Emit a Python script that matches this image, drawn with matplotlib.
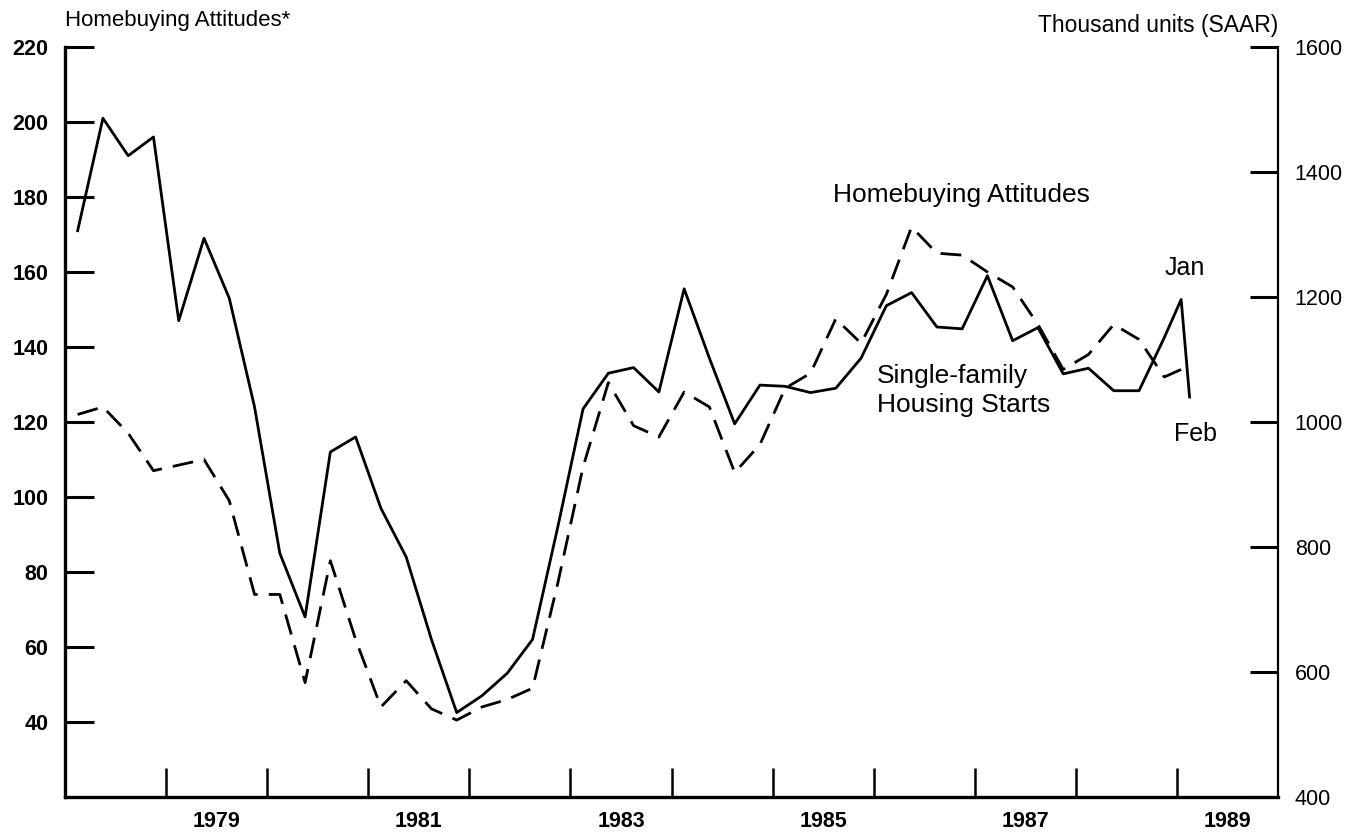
import matplotlib.pyplot as plt
import numpy as np

plt.rcParams['font.family'] = ['Liberation Sans', 'DejaVu Sans']

# quarterly data, 1978Q1 - 1988Q4
years = list(range(1978, 1989))
quarters = [1, 2, 3, 4]

# single-family housing starts, thousand units (SAAR) - solid line, right scale
starts = [1306, 1486, 1426, 1456,
          1162, 1294, 1198, 1024,
          790, 688, 952, 976,
          862, 784, 652, 535,
          562, 598, 652, 832,
          1021, 1078, 1087, 1048,
          1213, 1102, 997, 1059,
          1057, 1047, 1054, 1102,
          1186, 1207, 1152, 1149,
          1234, 1130, 1151, 1077,
          1086, 1050, 1050, 1135]
# monthly 1989: Jan, Feb
starts_1989 = [1196, 1040]

# homebuying attitudes index - dashed line, left scale
attitudes = [122, 124, 117, 107,
             108.5, 110, 99, 74,
             74, 50.5, 83, 62,
             44, 51, 43.5, 40.5,
             44, 46, 49, 77,
             108, 130.5, 119, 116,
             128, 124, 106.5, 114,
             129, 133, 147.5, 141,
             154, 172, 165, 164.5,
             160, 156, 146, 134,
             138, 146, 142, 132]
# monthly 1989: Jan
attitudes_1989 = [134]

months_1989 = [1, 2]

left_ticks = [40, 60, 80, 100, 120, 140, 160, 180, 200, 220]
right_ticks = [400, 600, 800, 1000, 1200, 1400, 1600]
year_ticks = list(range(1979, 1990))
year_labels = ['1979', '1981', '1983', '1985', '1987', '1989']

# positions: quarter midpoints and month midpoints
xq = [y + (q - 0.5) / 4 for y in years for q in quarters]
xm = [1989 + (m - 0.5) / 12 for m in months_1989]

fig = plt.figure(figsize=(13.63, 8.36), dpi=100)
ax = fig.add_axes([0.0477, 0.0467, 0.88995, 0.8971])
ax2 = ax.twinx()

ax.plot(xq + xm[:1], attitudes + attitudes_1989, color='black', lw=2.0,
        linestyle=(0, (7.5, 4)))
ax2.plot(xq + xm, starts + starts_1989, color='black', lw=2.0)

ax.set_xlim(1978, 1990)
ax.set_ylim(20, 220)
ax2.set_ylim(400, 1600)

# spines
ax.spines['top'].set_visible(False)
ax.spines['right'].set_visible(False)
ax.spines['left'].set_linewidth(2.4)
ax.spines['bottom'].set_linewidth(2.4)
for s in ['top', 'left', 'bottom']:
    ax2.spines[s].set_visible(False)
ax2.spines['right'].set_linewidth(1.6)

# left axis ticks
ax.set_yticks(left_ticks)
ax.set_yticks([220], minor=True)
ax.tick_params(axis='y', which='major', direction='in', length=21, width=2.2,
               pad=12, labelsize=15.5)
ax.tick_params(axis='y', which='minor', direction='in', length=27, width=2.2,
               labelleft=False)
for lab in ax.get_yticklabels():
    lab.set_fontweight('bold')

# x ticks: year boundaries, labels at mid-year
ax.set_xticks(year_ticks, labels=[''] * len(year_ticks))
ax.set_xticks([int(y) + 0.5 for y in year_labels], labels=year_labels, minor=True)
ax.tick_params(axis='x', which='major', direction='in', length=21, width=1.8)
ax.tick_params(axis='x', which='minor', length=0, pad=10, labelsize=15.5)
for lab in ax.get_xticklabels(minor=True):
    lab.set_fontweight('bold')

# right axis ticks
ax2.set_yticks(right_ticks)
ax2.set_yticks([1600], minor=True)
ax2.tick_params(axis='y', which='major', direction='in', length=20, width=2.2,
                pad=12, labelsize=15.5)
ax2.tick_params(axis='y', which='minor', direction='in', length=27, width=2.2,
                labelright=False)

# titles and labels
fig.text(0.0477, 0.975, 'Homebuying Attitudes*', fontsize=16, ha='left', va='center')
fig.text(0.9376, 0.970, 'Thousand units (SAAR)', fontsize=16.5, ha='right', va='center')

ax.text(1985.6, 180.4, 'Homebuying Attitudes', fontsize=19, ha='left', va='center')
ax.text(1986.03, 128.3, 'Single-family\nHousing Starts', fontsize=19, ha='left',
        va='center', linespacing=1.25)
ax.text(1989.08, 161, 'Jan', fontsize=18, ha='center', va='center')
ax.text(1989.18, 116.8, 'Feb', fontsize=18, ha='center', va='center')

fig.savefig('out.png', dpi=100)
